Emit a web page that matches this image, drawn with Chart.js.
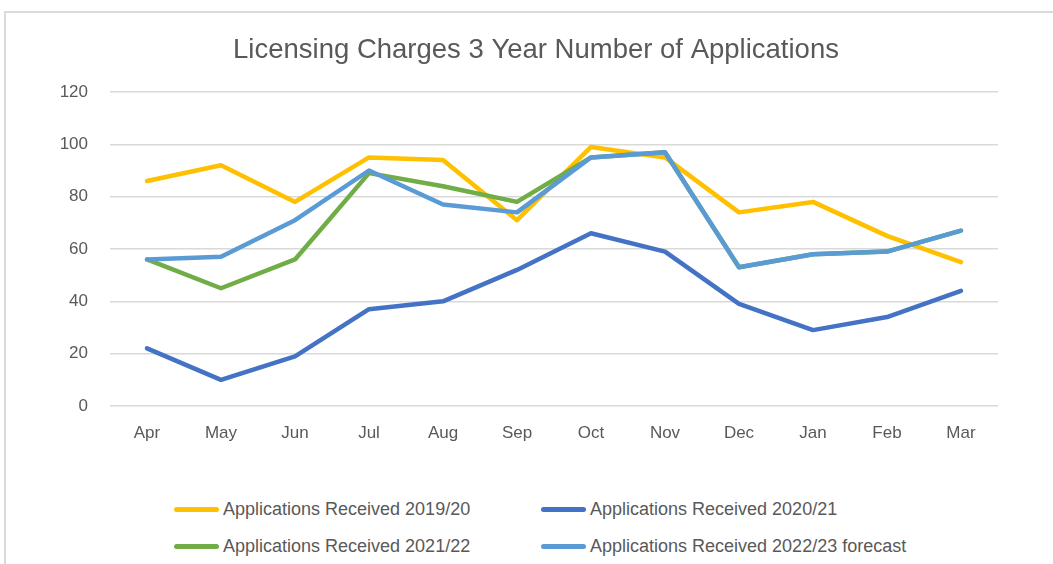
<!DOCTYPE html>
<html>
<head>
<meta charset="utf-8">
<script src="https://cdn.jsdelivr.net/npm/chart.js@4"></script>
<style>
  body { margin: 0; width: 1053px; height: 564px; overflow: hidden; background: #fff; position: relative; font-family: "Liberation Sans", Arial, sans-serif; }
  #frame { position: absolute; left: 4px; top: 11px; width: 1070px; height: 600px; border: 2px solid #d9d9d9; box-sizing: border-box; }
  #chart { position: absolute; left: 0; top: 0; }
  .leg { position: absolute; height: 22px; line-height: 22px; font-size: 18px; color: #595959; white-space: nowrap; }
  .leg span.mk { position: absolute; left: 0; top: 9px; width: 45px; height: 4.5px; border-radius: 3px; }
  .leg span.tx { position: absolute; left: 49px; top: 0; }
</style>
</head>
<body>
<div id="frame"></div>
<canvas id="chart" width="1053" height="470"></canvas>
<div id="legend"></div>
<script>
// meses del año fiscal
const months = ['Apr', 'May', 'Jun', 'Jul', 'Aug', 'Sep', 'Oct', 'Nov', 'Dec', 'Jan', 'Feb', 'Mar'];

// valores
const received1920 = [86, 92, 78, 95, 94, 71, 99, 95, 74, 78, 65, 55];
const received2021 = [22, 10, 19, 37, 40, 52, 66, 59, 39, 29, 34, 44];
const received2122 = [56, 45, 56, 89, 84, 78, 95, 97, 53, 58, 59, 67];
const received2223 = [56, 57, 71, 90, 77, 74, 95, 97, 53, 58, 59, 67];

const seriesNames = ['Applications Received 2019/20', 'Applications Received 2020/21',
  'Applications Received 2021/22', 'Applications Received 2022/23 forecast'];
const seriesColors = ['#FFC000', '#4472C4', '#70AD47', '#5B9BD5'];

const yTicks = [0, 20, 40, 60, 80, 100, 120];

const allSeries = [received1920, received2021, received2122, received2223];

const datasets = allSeries.map((vals, i) => ({
  label: seriesNames[i],
  data: vals,
  borderColor: seriesColors[i],
  backgroundColor: seriesColors[i],
  borderWidth: 4.5,
  pointRadius: 0,
  pointHoverRadius: 0,
  tension: 0,
  borderJoinStyle: 'round',
  borderCapStyle: 'round',
  yAxisID: 'y',
  order: allSeries.length - i // la ultima serie queda encima
}));

const tickFont = { family: '"Liberation Sans", Arial, sans-serif', size: 17 };

const chart = new Chart(document.getElementById('chart'), {
  type: 'line',
  data: { labels: months, datasets: datasets },
  options: {
    responsive: false,
    animation: false,
    // el titulo queda algo a la derecha del centro, como en el original
    layout: { padding: { left: 19, right: 0, top: 0, bottom: 0 } },
    plugins: {
      legend: { display: false },
      tooltip: { enabled: false },
      title: {
        display: true,
        text: 'Licensing Charges 3 Year Number of Applications',
        color: '#595959',
        font: { family: '"Liberation Sans", Arial, sans-serif', size: 27.5, weight: 'normal' },
        padding: { top: 34, bottom: 25 }
      }
    },
    scales: {
      x: {
        offset: true,
        grid: { display: false, drawTicks: false },
        border: { display: false },
        ticks: { color: '#595959', font: tickFont, padding: 17 },
        afterFit: (scale) => { scale.height = 64; }
      },
      y: {
        min: 0,
        max: 120,
        afterBuildTicks: (scale) => { scale.ticks = yTicks.map(v => ({ value: v })); },
        grid: { color: '#d9d9d9', lineWidth: 1.5, drawTicks: false },
        border: { display: false },
        ticks: { color: '#595959', font: tickFont, padding: 22 },
        afterFit: (scale) => { scale.width = 91; }
      },
      // eje vacio a la derecha, solo para dejar el margen
      yRight: {
        position: 'right',
        min: 0,
        max: 120,
        grid: { display: false, drawTicks: false },
        border: { display: false },
        ticks: { display: false },
        afterFit: (scale) => { scale.width = 55; }
      }
    }
  }
});

// leyenda en dos columnas, como en el original
const legendPos = [[174, 498], [541, 498], [174, 535], [541, 535]];
const legendBox = document.getElementById('legend');
chart.data.datasets.forEach((ds, i) => {
  const item = document.createElement('div');
  item.className = 'leg';
  item.style.left = legendPos[i][0] + 'px';
  item.style.top = legendPos[i][1] + 'px';
  item.innerHTML = '<span class="mk" style="background:' + ds.borderColor + '"></span><span class="tx">' + ds.label + '</span>';
  legendBox.appendChild(item);
});
</script>
</body>
</html>
